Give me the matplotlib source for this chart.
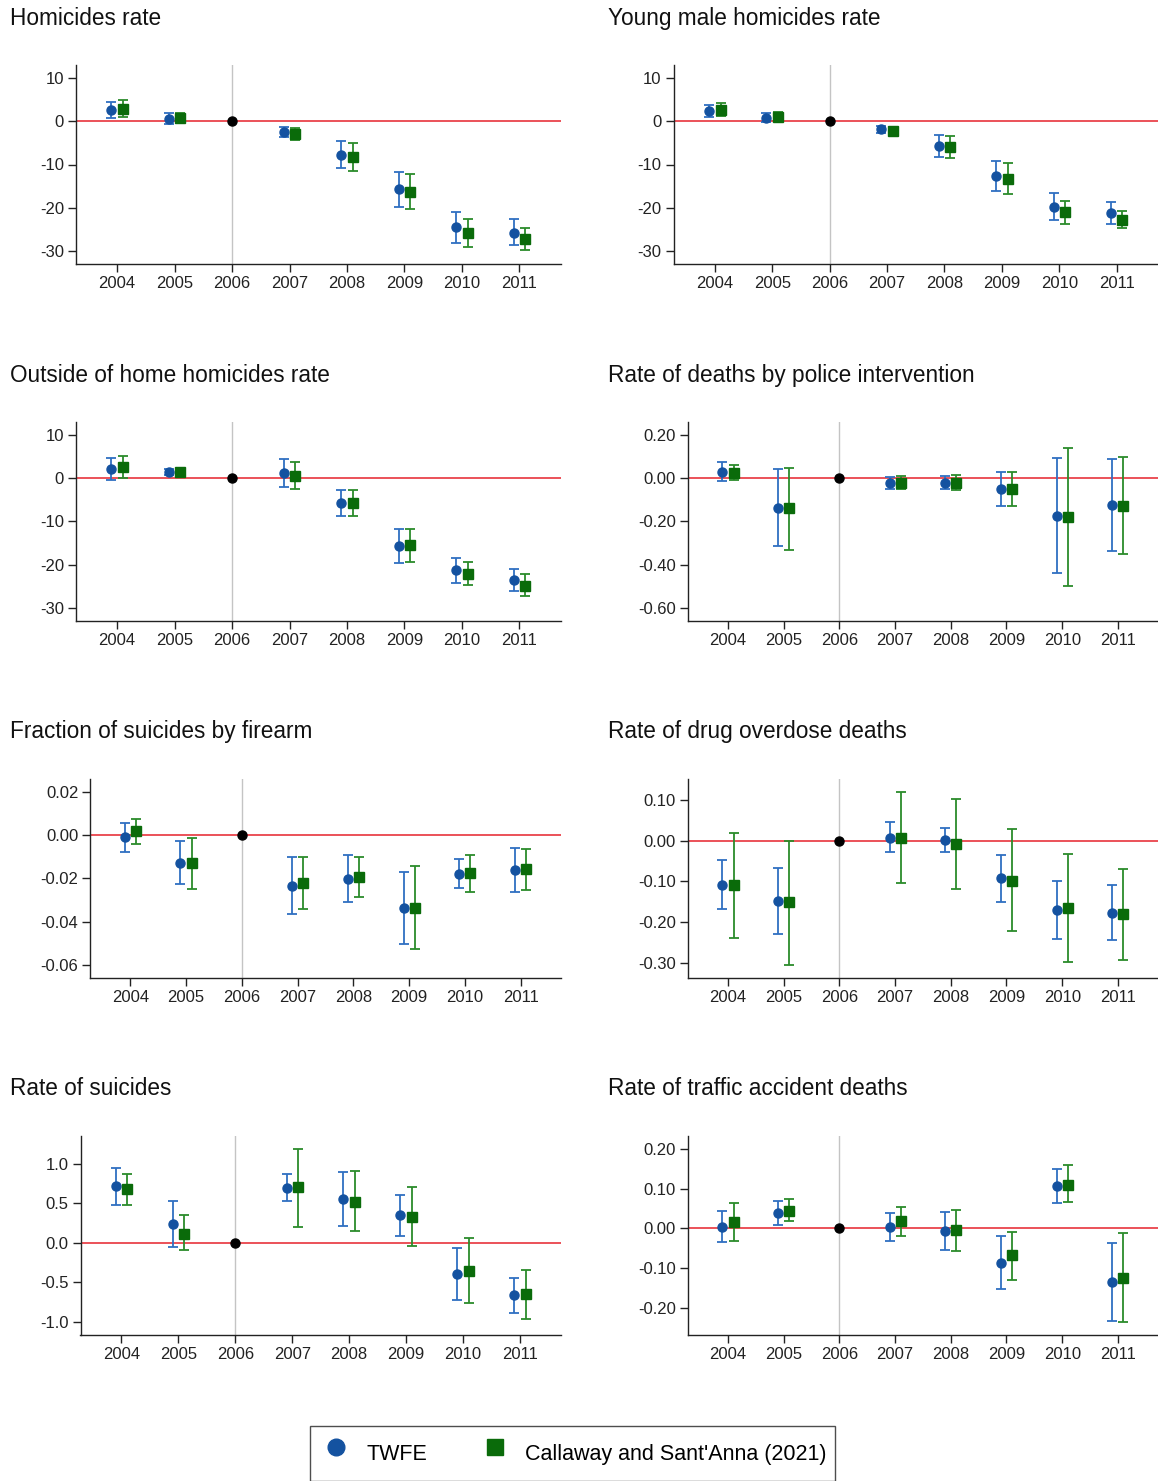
import numpy as np
import matplotlib.pyplot as plt
from matplotlib.lines import Line2D
from matplotlib.ticker import FormatStrFormatter

plt.rcParams['font.family'] = ['Liberation Sans', 'DejaVu Sans']
plt.rcParams['axes.unicode_minus'] = False

W, H = 1158, 1481

years = [2004, 2005, 2007, 2008, 2009, 2010, 2011]
ref_year = 2006
all_years = [2004, 2005, 2006, 2007, 2008, 2009, 2010, 2011]

# Homicides rate
hom_twfe = [2.7, 0.6, -2.5, -7.7, -15.8, -24.6, -25.8]
hom_twfe_lo = [0.85, -0.6, -3.6, -10.9, -19.8, -28.2, -28.8]
hom_twfe_hi = [4.5, 1.85, -1.4, -4.6, -11.8, -21.0, -22.7]
hom_cs = [2.9, 0.7, -2.9, -8.2, -16.4, -25.8, -27.3]
hom_cs_lo = [1.1, -0.4, -4.2, -11.4, -20.4, -29.2, -29.9]
hom_cs_hi = [4.95, 1.85, -1.6, -4.9, -12.3, -22.7, -24.7]

# Young male homicides rate
ym_twfe = [2.4, 0.9, -1.8, -5.7, -12.7, -19.9, -21.3]
ym_twfe_lo = [1.0, -0.2, -2.6, -8.3, -16.2, -22.9, -23.9]
ym_twfe_hi = [3.7, 1.9, -1.1, -3.1, -9.2, -16.7, -18.7]
ym_cs = [2.7, 1.0, -2.2, -5.9, -13.3, -21.1, -22.8]
ym_cs_lo = [1.15, 0.0, -2.9, -8.6, -16.9, -23.7, -24.8]
ym_cs_hi = [4.3, 2.1, -1.5, -3.3, -9.6, -18.4, -20.7]

# Outside of home homicides rate
out_twfe = [2.1, 1.3, 1.1, -5.7, -15.7, -21.3, -23.6]
out_twfe_lo = [-0.5, 0.6, -2.1, -8.7, -19.6, -24.2, -26.1]
out_twfe_hi = [4.6, 2.1, 4.3, -2.7, -11.9, -18.4, -21.1]
out_cs = [2.5, 1.5, 0.5, -5.7, -15.6, -22.1, -24.9]
out_cs_lo = [-0.1, 0.85, -2.5, -8.7, -19.4, -24.7, -27.4]
out_cs_hi = [5.2, 2.2, 3.7, -2.8, -11.8, -19.5, -22.1]

# Rate of deaths by police intervention
pol_twfe = [0.031, -0.137, -0.023, -0.020, -0.051, -0.174, -0.122]
pol_twfe_lo = [-0.015, -0.313, -0.052, -0.051, -0.131, -0.441, -0.335]
pol_twfe_hi = [0.076, 0.042, 0.005, 0.012, 0.029, 0.094, 0.091]
pol_cs = [0.026, -0.140, -0.022, -0.022, -0.048, -0.179, -0.128]
pol_cs_lo = [-0.006, -0.332, -0.052, -0.054, -0.130, -0.498, -0.352]
pol_cs_hi = [0.063, 0.049, 0.008, 0.015, 0.031, 0.139, 0.099]

# Fraction of suicides by firearm
fir_twfe = [-0.0009, -0.0127, -0.0233, -0.0201, -0.0337, -0.0178, -0.0161]
fir_twfe_lo = [-0.0076, -0.0224, -0.0363, -0.0310, -0.0502, -0.0246, -0.0264]
fir_twfe_hi = [0.0056, -0.0028, -0.0103, -0.0091, -0.0171, -0.0110, -0.0057]
fir_cs = [0.0019, -0.0130, -0.0222, -0.0195, -0.0335, -0.0176, -0.0158]
fir_cs_lo = [-0.0039, -0.0249, -0.0344, -0.0284, -0.0525, -0.0261, -0.0252]
fir_cs_hi = [0.0074, -0.0014, -0.0100, -0.0102, -0.0142, -0.0091, -0.0062]

# Rate of drug overdose deaths
drg_twfe = [-0.108, -0.148, 0.007, 0.002, -0.093, -0.171, -0.177]
drg_twfe_lo = [-0.168, -0.229, -0.029, -0.029, -0.151, -0.243, -0.244]
drg_twfe_hi = [-0.048, -0.066, 0.045, 0.031, -0.036, -0.098, -0.110]
drg_cs = [-0.110, -0.152, 0.007, -0.007, -0.098, -0.166, -0.181]
drg_cs_lo = [-0.239, -0.306, -0.105, -0.118, -0.221, -0.298, -0.293]
drg_cs_hi = [0.018, 0.000, 0.120, 0.102, 0.029, -0.032, -0.070]

# Rate of suicides
sui_twfe = [0.719, 0.237, 0.698, 0.554, 0.347, -0.397, -0.664]
sui_twfe_lo = [0.478, -0.055, 0.533, 0.216, 0.093, -0.731, -0.888]
sui_twfe_hi = [0.951, 0.529, 0.871, 0.896, 0.605, -0.063, -0.440]
sui_cs = [0.677, 0.118, 0.702, 0.524, 0.334, -0.351, -0.655]
sui_cs_lo = [0.478, -0.093, 0.207, 0.152, -0.034, -0.761, -0.964]
sui_cs_hi = [0.875, 0.347, 1.192, 0.909, 0.706, 0.063, -0.342]

# Rate of traffic accident deaths
trf_twfe = [0.003, 0.039, 0.004, -0.007, -0.087, 0.106, -0.134]
trf_twfe_lo = [-0.035, 0.009, -0.031, -0.055, -0.154, 0.064, -0.233]
trf_twfe_hi = [0.044, 0.070, 0.039, 0.041, -0.018, 0.149, -0.036]
trf_cs = [0.015, 0.045, 0.018, -0.005, -0.068, 0.110, -0.124]
trf_cs_lo = [-0.031, 0.018, -0.019, -0.057, -0.129, 0.066, -0.236]
trf_cs_hi = [0.063, 0.074, 0.055, 0.047, -0.008, 0.159, -0.011]

panels = [
    ("Homicides rate", hom_twfe, hom_twfe_lo, hom_twfe_hi, hom_cs, hom_cs_lo, hom_cs_hi,
     [10, 0, -10, -20, -30], '%d', (-33.1, 13.1)),
    ("Young male homicides rate", ym_twfe, ym_twfe_lo, ym_twfe_hi, ym_cs, ym_cs_lo, ym_cs_hi,
     [10, 0, -10, -20, -30], '%d', (-33.1, 13.1)),
    ("Outside of home homicides rate", out_twfe, out_twfe_lo, out_twfe_hi, out_cs, out_cs_lo, out_cs_hi,
     [10, 0, -10, -20, -30], '%d', (-33.0, 12.9)),
    ("Rate of deaths by police intervention", pol_twfe, pol_twfe_lo, pol_twfe_hi, pol_cs, pol_cs_lo, pol_cs_hi,
     [0.2, 0.0, -0.2, -0.4, -0.6], '%.2f', (-0.660, 0.259)),
    ("Fraction of suicides by firearm", fir_twfe, fir_twfe_lo, fir_twfe_hi, fir_cs, fir_cs_lo, fir_cs_hi,
     [0.02, 0.0, -0.02, -0.04, -0.06], '%.2f', (-0.066, 0.0259)),
    ("Rate of drug overdose deaths", drg_twfe, drg_twfe_lo, drg_twfe_hi, drg_cs, drg_cs_lo, drg_cs_hi,
     [0.1, 0.0, -0.1, -0.2, -0.3], '%.2f', (-0.337, 0.151)),
    ("Rate of suicides", sui_twfe, sui_twfe_lo, sui_twfe_hi, sui_cs, sui_cs_lo, sui_cs_hi,
     [1.0, 0.5, 0.0, -0.5, -1.0], '%.1f', (-1.165, 1.355)),
    ("Rate of traffic accident deaths", trf_twfe, trf_twfe_lo, trf_twfe_hi, trf_cs, trf_cs_lo, trf_cs_hi,
     [0.2, 0.1, 0.0, -0.1, -0.2], '%.2f', (-0.268, 0.233)),
]

# layout in pixels: (left, top, right, bottom), title x, title baseline
boxes = [
    (75.7, 65, 560.8, 264, 10, 25),
    (673.5, 65, 1158, 264, 608, 25),
    (75.7, 422.3, 560.8, 620.7, 10, 382),
    (687.9, 422.3, 1158, 620.7, 608, 382),
    (90.1, 779.3, 560.8, 977.7, 10, 738),
    (687.9, 779.3, 1158, 977.7, 608, 738),
    (80.5, 1136, 560.8, 1334.7, 10, 1095),
    (687.9, 1136, 1158, 1334.7, 608, 1095),
]

blue = '#1452a0'
blue_bar = '#2f6fc2'
green = '#0a6b0a'
green_bar = '#2b8b2b'

fig = plt.figure(figsize=(W / 100, H / 100), dpi=100)

for p, b in zip(panels, boxes):
    title, tw, twl, twh, cs, csl, csh, yt, fmt, yl = p
    l, t, r, bt, tx, ty = b
    ax = fig.add_axes([l / W, 1 - bt / H, (r - l) / W, (bt - t) / H])
    x = np.array(years, dtype=float)
    tw, twl, twh = np.array(tw), np.array(twl), np.array(twh)
    cs, csl, csh = np.array(cs), np.array(csl), np.array(csh)

    ax.axhline(0, color='#e8343c', lw=1.2, zorder=1)
    ax.axvline(ref_year, color='#c4c4c4', lw=1.0, zorder=1)

    ax.errorbar(x - 0.1, tw, yerr=[tw - twl, twh - tw], fmt='o', color=blue, ecolor=blue_bar,
                elinewidth=1.3, capsize=3.6, capthick=1.3, markersize=6.5, zorder=3)
    ax.errorbar(x + 0.1, cs, yerr=[cs - csl, csh - cs], fmt='s', color=green, ecolor=green_bar,
                elinewidth=1.3, capsize=3.6, capthick=1.3, markersize=6.5, zorder=3)
    ax.plot([ref_year], [0], 'o', color='black', markersize=6.5, zorder=4)

    ax.set_xlim(2003.28, 2011.72)
    ax.set_ylim(*yl)
    ax.set_xticks(all_years)
    ax.set_yticks(yt)
    ax.yaxis.set_major_formatter(FormatStrFormatter(fmt))
    ax.tick_params(axis='both', labelsize=12, colors='#222222', length=5.5, width=1.0)
    ax.tick_params(axis='x', pad=3.5)
    ax.tick_params(axis='y', pad=3)
    for s in ['top', 'right']:
        ax.spines[s].set_visible(False)
    for s in ['left', 'bottom']:
        ax.spines[s].set_color('#222222')
        ax.spines[s].set_linewidth(1.0)
    ax.set_facecolor('none')

    fig.text(tx / W, 1 - ty / H, title, fontsize=16.3, va='baseline', ha='left', color='#111111')

handles = [
    Line2D([], [], marker='o', ls='none', color=blue, markersize=12),
    Line2D([], [], marker='s', ls='none', color=green, markersize=12),
]
leg = fig.legend(handles, ['TWFE', "Callaway and Sant'Anna (2021)"], loc='upper left',
                 bbox_to_anchor=(310 / W, 1 - 1426 / H), borderaxespad=0, ncol=2,
                 fontsize=15.5, frameon=True, fancybox=False, edgecolor='#222222',
                 handlelength=1.62, handletextpad=0.59, columnspacing=2.35,
                 handleheight=2.35, borderpad=0.4)
leg.get_frame().set_linewidth(1.0)

fig.savefig('out.png', dpi=100)
